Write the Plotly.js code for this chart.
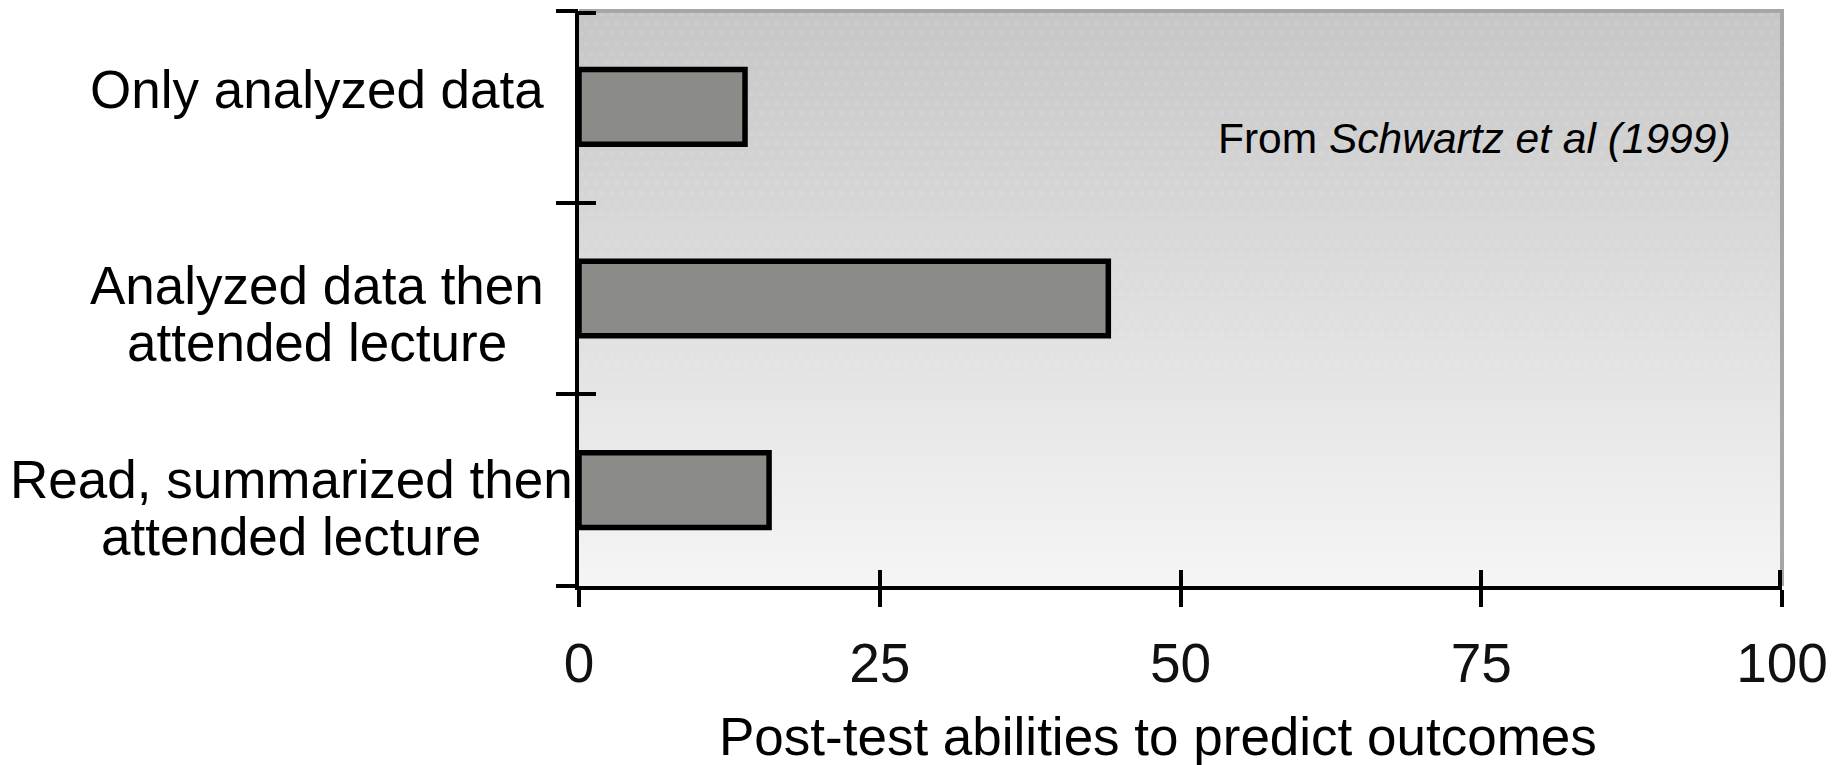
<!DOCTYPE html>
<html>
<head>
<meta charset="utf-8">
<script src="https://cdn.plot.ly/plotly-3.0.1.min.js"></script>
<style>
  html, body { margin: 0; padding: 0; background: #ffffff; }
  #chart { width: 1842px; height: 765px; }
</style>
</head>
<body>
<div id="chart"></div>
<script>
// Study conditions, listed top to bottom, and their post-test scores
const conditions = [
  'Only analyzed data',
  'Analyzed data then<br>attended lecture',
  'Read, summarized then<br>attended lecture'
];
const scores = [13.8, 44.0, 15.8];
const xTickValues = [0, 25, 50, 75, 100];
const xTickLabels = ['0', '25', '50', '75', '100'];
const xAxisTitle = 'Post-test abilities to predict outcomes';
const sourceNote = 'From <i>Schwartz et al (1999)</i>';

const FONT = 'Liberation Sans, Arial, sans-serif';
const W = 1842, H = 765;
const M = { l: 579, r: 60, t: 11, b: 179 };
const plotW = W - M.l - M.r;
const plotH = H - M.t - M.b;

// Grey vertical wash behind the bars, with a faint halftone texture
function makeBackground(w, h) {
  const c = document.createElement('canvas');
  c.width = w; c.height = h;
  const g = c.getContext('2d');
  const grad = g.createLinearGradient(0, 0, 0, h);
  grad.addColorStop(0, '#c6c6c6');
  grad.addColorStop(1, '#f5f5f5');
  g.fillStyle = grad;
  g.fillRect(0, 0, w, h);
  g.fillStyle = 'rgba(255,255,255,0.07)';
  for (let y = 0; y < h; y += 10) {
    const off = ((y / 10) % 2) * 5;
    for (let x = off; x < w; x += 10) g.fillRect(x, y, 5, 5);
  }
  return c.toDataURL('image/png');
}

// Category labels: each line is its own annotation so the line spacing stays tight
const labelCenterPx = [317, 317, 291];   // horizontal centre of each label block
const firstBaseline = [1, 5, 8];         // first baseline, px below category centre
const lineGap = 57;
const labelSize = 53;
const midFromBaseline = 0.3465 * labelSize;

const annotations = [];
conditions.forEach((cat, i) => {
  cat.split('<br>').forEach((line, k) => {
    const baseline = firstBaseline[i] + k * lineGap;
    annotations.push({
      text: line,
      xref: 'paper', yref: 'y',
      x: (labelCenterPx[i] - M.l) / plotW,
      y: cat,
      xanchor: 'center', yanchor: 'middle',
      yshift: midFromBaseline - baseline,
      showarrow: false,
      font: { family: FONT, size: labelSize, color: '#000' }
    });
  });
});

// Axis title
annotations.push({
  text: xAxisTitle,
  xref: 'paper', yref: 'paper',
  x: (1158 - M.l) / plotW,
  y: 1 - ((755 - 0.3465 * 53) - M.t) / plotH,
  xanchor: 'center', yanchor: 'middle',
  showarrow: false,
  font: { family: FONT, size: 53, color: '#000' }
});

// Source note inside the plot
annotations.push({
  text: sourceNote,
  xref: 'paper', yref: 'paper',
  x: (1474 - M.l) / plotW,
  y: 1 - ((153 - 0.3465 * 42.5) - M.t) / plotH,
  xanchor: 'center', yanchor: 'middle',
  showarrow: false,
  font: { family: FONT, size: 42.5, color: '#000' }
});

// Category boundaries for the crossing tick marks
const nCat = conditions.length;
const boundaries = [];
for (let i = 0; i <= nCat; i++) boundaries.push(i - 0.5);
// inward halves: the bottom one is the x axis line itself; the top one is
// nudged a hair inside the range so the library does not drop it at the edge
const innerBoundaries = boundaries.slice(0, nCat).map((b, i) => (i === 0 ? b + 0.01 : b));
const xInnerTicks = xTickValues.map((v, i) => (i === xTickValues.length - 1 ? v - 0.15 : v));

const traces = [
  {
    type: 'bar',
    orientation: 'h',
    y: conditions,
    x: scores,
    width: 0.39,
    marker: { color: '#8b8c88', line: { color: '#000000', width: 5.5 } },
    hoverinfo: 'skip',
    showlegend: false
  },
  // carriers for the tick-only overlay axes
  { type: 'scatter', mode: 'markers', x: [], y: [], xaxis: 'x2', yaxis: 'y', hoverinfo: 'skip', showlegend: false },
  { type: 'scatter', mode: 'markers', x: [], y: [], xaxis: 'x', yaxis: 'y2', hoverinfo: 'skip', showlegend: false },
  { type: 'scatter', mode: 'markers', x: [], y: [], xaxis: 'x', yaxis: 'y3', hoverinfo: 'skip', showlegend: false }
];

const tickOnly = {
  showticklabels: false, showline: false, showgrid: false, zeroline: false, fixedrange: true,
  tickwidth: 4, tickcolor: '#000'
};

const layout = {
  width: W, height: H,
  margin: M,
  paper_bgcolor: '#ffffff',
  plot_bgcolor: 'rgba(0,0,0,0)',
  showlegend: false,
  font: { family: FONT, color: '#000' },
  xaxis: {
    range: [0, 100],
    tickmode: 'array', tickvals: xTickValues, ticktext: xTickLabels,
    ticks: 'outside', ticklen: 17, tickwidth: 4, tickcolor: '#000',
    ticklabelstandoff: 9,
    tickfont: { family: FONT, size: 55, color: '#111' },
    showline: true, linecolor: '#000', linewidth: 4,
    showgrid: false, zeroline: false, fixedrange: true
  },
  xaxis2: Object.assign({
    overlaying: 'x', anchor: 'y', side: 'bottom',
    range: [0, 100],
    tickmode: 'array', tickvals: xInnerTicks,
    ticks: 'inside', ticklen: 16
  }, tickOnly),
  yaxis: {
    type: 'category',
    categoryorder: 'array', categoryarray: conditions,
    range: [nCat - 0.5, -0.5],
    ticks: '',
    showticklabels: false,
    showline: true, linecolor: '#000', linewidth: 4,
    showgrid: false, zeroline: false, fixedrange: true
  },
  yaxis2: Object.assign({
    overlaying: 'y', anchor: 'x', side: 'left',
    range: [nCat - 0.5, -0.5],
    tickmode: 'array', tickvals: boundaries,
    ticks: 'outside', ticklen: 22
  }, tickOnly),
  yaxis3: Object.assign({
    overlaying: 'y', anchor: 'x', side: 'left',
    range: [nCat - 0.5, -0.5],
    tickmode: 'array', tickvals: innerBoundaries,
    ticks: 'inside', ticklen: 17
  }, tickOnly),
  images: [{
    source: makeBackground(plotW, plotH),
    xref: 'paper', yref: 'paper',
    x: 0, y: 1, sizex: 1, sizey: 1,
    xanchor: 'left', yanchor: 'top',
    sizing: 'stretch', layer: 'below'
  }],
  shapes: [{
    type: 'path',
    path: 'M 0 1 L 1 1 L 1 0',
    xref: 'paper', yref: 'paper',
    line: { color: '#a6a6a6', width: 4 },
    layer: 'below'
  }],
  annotations: annotations
};

Plotly.newPlot('chart', traces, layout, { staticPlot: true, displayModeBar: false });
</script>
</body>
</html>
